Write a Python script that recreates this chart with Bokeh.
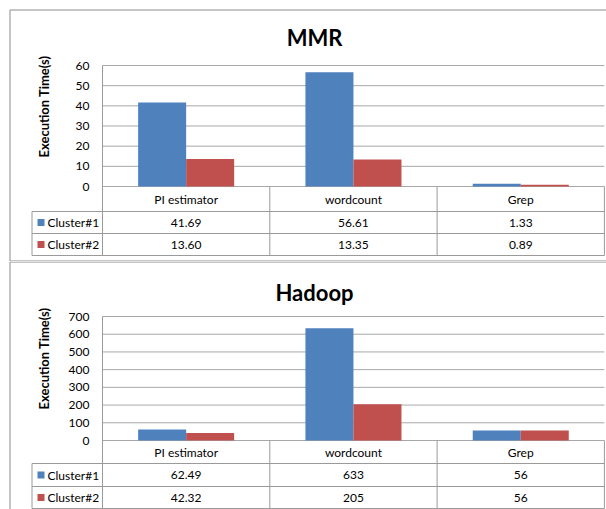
import numpy as np
from bokeh.plotting import figure
from bokeh.layouts import column
from bokeh.models import Range1d, LinearAxis, FixedTicker
from bokeh.core.properties import value
from bokeh.embed import file_html
from bokeh.resources import INLINE

# ---------------- data ----------------
categories = ["PI estimator", "wordcount", "Grep"]
series_names = ["Cluster#1", "Cluster#2"]
series_colors = ["#4F81BD", "#C0504D"]

mmr_title = "MMR"
mmr_cluster1 = [41.69, 56.61, 1.33]
mmr_cluster2 = [13.60, 13.35, 0.89]
mmr_ticks = [0, 10, 20, 30, 40, 50, 60]

hadoop_title = "Hadoop"
hadoop_cluster1 = [62.49, 633, 56]
hadoop_cluster2 = [42.32, 205, 56]
hadoop_ticks = [0, 100, 200, 300, 400, 500, 600, 700]

y_label = "Execution Time(s)"

# ---------------- layout constants (pixels) ----------------
FONT = "Lato"
W = 606
X0_PX = 102       # left edge of first category column inside the figure
COL_PX = 167.3    # width of one category column
BAR_W = 0.287     # bar width in category units
GRID_COLOR = "#a8a8a8"
TABLE_COLOR = "#9a9a9a"
BORDER_COLOR = "#8c8c8c"


def X(px):
    return (px - X0_PX) / COL_PX


def fmt(v):
    return f"{int(v)}" if float(v).is_integer() else f"{v:.2f}"


def panel(title, c1, c2, ticks, H, top_y, bottom_y, title_y, ymax_y, y0_y, rows, label_y):
    ymax = ticks[-1]
    ppu = (y0_y - ymax_y) / ymax
    y_start = -(H - y0_y) / ppu
    y_end = ymax + ymax_y / ppu
    p = figure(width=W, height=H, x_range=Range1d(X(0), X(W)),
               y_range=Range1d(y_start, y_end), output_backend="svg",
               toolbar_location=None, title=None, x_axis_location=None,
               y_axis_location=None, min_border=0)
    p.extra_y_ranges = {"px": Range1d(H, 0)}
    for g in p.grid:
        g.visible = False
    p.outline_line_color = None
    p.background_fill_color = "white"
    p.border_fill_color = "white"

    # panel border
    p.segment(x0=[X(9.5)], y0=[top_y], x1=[X(9.5)], y1=[bottom_y if bottom_y else H],
              line_color=BORDER_COLOR, line_width=1, y_range_name="px")
    p.segment(x0=[X(9.5)], y0=[top_y], x1=[X(W)], y1=[top_y],
              line_color=BORDER_COLOR, line_width=1, y_range_name="px")
    if bottom_y:
        p.segment(x0=[X(9.5)], y0=[bottom_y], x1=[X(W)], y1=[bottom_y],
                  line_color=BORDER_COLOR, line_width=1, y_range_name="px")

    # gridlines
    n = len(categories)
    p.segment(x0=[0] * len(ticks), y0=ticks, x1=[n] * len(ticks), y1=ticks,
              line_color=GRID_COLOR, line_width=1)

    # bars
    xs = np.arange(n) + 0.5
    p.vbar(x=xs - BAR_W / 2, top=c1, width=BAR_W, bottom=0,
           fill_color=series_colors[0], line_color=None)
    p.vbar(x=xs + BAR_W / 2, top=c2, width=BAR_W, bottom=0,
           fill_color=series_colors[1], line_color=None)

    # table lines
    leg_left = X(31.5)
    vx0 = [0] + list(range(1, n + 1)) + [leg_left]
    vy0 = [ymax_y] + [y0_y] * n + [rows[0]]
    p.segment(x0=vx0, y0=vy0, x1=vx0, y1=[rows[2]] * len(vx0),
              line_color=TABLE_COLOR, line_width=1, y_range_name="px")
    p.segment(x0=[leg_left] * 3, y0=rows, x1=[n] * 3, y1=rows,
              line_color=TABLE_COLOR, line_width=1, y_range_name="px")

    # table texts
    header_y = (y0_y + rows[0]) / 2
    r1_y = (rows[0] + rows[1]) / 2
    r2_y = (rows[1] + rows[2]) / 2
    common = dict(text_font=value(FONT), text_font_size="12px", text_color="black",
                  text_baseline="middle", y_range_name="px")
    p.text(x=xs, y=[header_y] * n, text=categories, text_align="center", **common)
    p.text(x=xs, y=[r1_y] * n, text=[fmt(v) for v in c1], text_align="center", **common)
    p.text(x=xs, y=[r2_y] * n, text=[fmt(v) for v in c2], text_align="center", **common)

    # legend cells
    p.scatter(x=[X(40.5)] * 2, y=[r1_y, r2_y], marker="square", size=7,
              fill_color=series_colors, line_color=None, y_range_name="px")
    p.text(x=[X(47)] * 2, y=[r1_y, r2_y], text=series_names, text_align="left", **common)

    # title
    p.text(x=[X(314)], y=[title_y], text=[title], text_font=value(FONT),
           text_font_size="22px", text_font_style="bold", text_color="black",
           text_align="center", text_baseline="middle", y_range_name="px")

    # y axis label
    p.text(x=[X(43)], y=[label_y], text=[y_label], angle=np.pi / 2,
           text_font=value(FONT), text_font_size="13px", text_font_style="bold",
           text_color="black", text_align="center", text_baseline="middle",
           y_range_name="px")

    # y axis
    ax = LinearAxis(fixed_location=0, ticker=FixedTicker(ticks=ticks))
    ax.axis_line_color = None
    ax.major_tick_line_color = None
    ax.minor_tick_line_color = None
    ax.major_label_standoff = 7
    ax.major_label_text_font = FONT
    ax.major_label_text_font_size = "12px"
    ax.major_label_text_color = "black"
    p.add_layout(ax, "left")
    return p


p1 = panel(mmr_title, mmr_cluster1, mmr_cluster2, mmr_ticks, H=261,
           top_y=9.5, bottom_y=260.5, title_y=37, ymax_y=65, y0_y=186,
           rows=[211, 233, 255], label_y=106)
p2 = panel(hadoop_title, hadoop_cluster1, hadoop_cluster2, hadoop_ticks, H=248,
           top_y=0.5, bottom_y=None, title_y=31, ymax_y=55, y0_y=179,
           rows=[202, 225, 247], label_y=97)

layout = column(p1, p2)
open("out.html", "w").write(file_html(layout, INLINE))
